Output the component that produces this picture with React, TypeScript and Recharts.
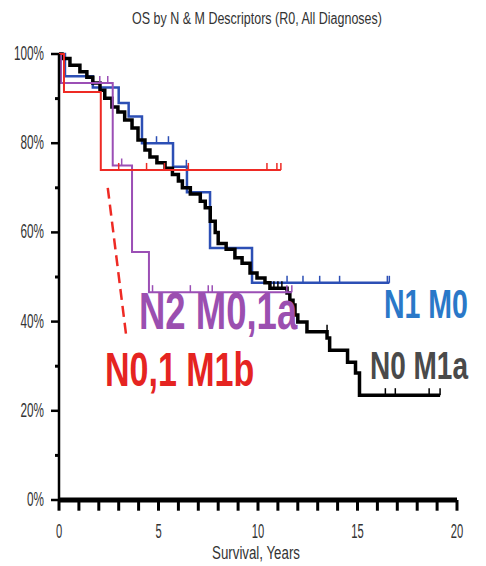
import React from "react";
import { ComposedChart, Line, Scatter, XAxis, YAxis, ReferenceLine } from "recharts";

// axis ticks
const yearTicks = [0, 1, 2, 3, 4, 5, 6, 7, 8, 9, 10, 11, 12, 13, 14, 15, 16, 17, 18, 19, 20];
const pctTicks = [0, 20, 40, 60, 80, 100];
const pctMinorTicks = [10, 30, 50, 70, 90];

// N0 M1a (black)
const n0m1aYears = [0, 0.15, 0.55, 1.05, 1.4, 1.7, 2.06, 2.3, 2.66, 2.96, 3.3, 3.67, 3.97, 4.32, 4.57, 4.92, 5.33, 5.7, 6.0, 6.2, 6.6, 7.1, 7.35, 7.6, 7.85, 8.0, 8.4, 8.84, 9.2, 9.6, 9.95, 10.35, 10.6, 11.46, 11.6, 11.76, 11.86, 12.0, 12.46, 13.47, 13.6, 14.5, 14.9, 15.1, 19.15];
const n0m1aSurv = [100, 99, 97.5, 96, 94.8, 93.5, 91.9, 90.1, 88.1, 87, 85.2, 83.4, 80.7, 78.5, 76.9, 75.6, 74.4, 73, 71.5, 70, 68.6, 67, 65.5, 62.5, 60, 57.5, 56.2, 54.3, 53.1, 50.9, 49.8, 48.7, 47.5, 46.4, 44.8, 43.7, 41.5, 39.9, 37.7, 36.3, 33.6, 30.9, 28.5, 23.5, 23.5];
const n0m1aCensYears = [10.8, 11.0, 11.2, 13.47, 16.4, 16.9, 18.6, 19.15];
const n0m1aCensSurv = [47.5, 47.5, 47.5, 37.7, 23.5, 23.5, 23.5, 23.5];

// N1 M0 (blue)
const n1m0Years = [0, 0.3, 1.7, 3.0, 3.5, 4.17, 5.73, 6.43, 7.59, 9.7, 16.6];
const n1m0Surv = [100, 95, 92.5, 89, 86, 80, 74.7, 69, 56.5, 48.7, 48.7];
const n1m0CensYears = [4.9, 5.5, 6.4, 11.46, 12.26, 13.1, 14.1, 16.5, 16.6];
const n1m0CensSurv = [80, 80, 74.7, 48.7, 48.7, 48.7, 48.7, 48.7, 48.7];

// N2 M0,1a (purple)
const n2Years = [0, 0.1, 2.7, 3.67, 4.52, 11.7];
const n2Surv = [100, 93.5, 75, 55.6, 46.6, 46.6];
const n2CensYears = [2.05, 2.45, 3.15, 4.7, 6.6, 7.5, 7.7, 11.45, 11.7];
const n2CensSurv = [93.5, 93.5, 75, 46.6, 46.6, 46.6, 46.6, 46.6, 46.6];

// N0,1 M1b (red)
const m1bYears = [0, 0.25, 2.1, 11.15];
const m1bSurv = [100, 91.5, 74, 74];
const m1bCensYears = [3.0, 4.4, 5.3, 6.5, 10.45, 10.95, 11.15];
const m1bCensSurv = [74, 74, 74, 74, 74, 74, 74];

// dashed pointer from the red label to its curve
const pointerYears = [2.45, 3.4];
const pointerSurv = [70, 36];

const rows = (t: number[], s: number[]) => t.map((v, i) => ({ t: v, s: s[i] }));

const FONT = '"Liberation Sans", Arial, sans-serif';

const censor = (color: string) => (props: any) => (
  <line x1={props.cx} x2={props.cx} y1={props.cy} y2={props.cy - 7} stroke={color} strokeWidth={1.5} />
);

function XTick(props: any) {
  const { x, y, payload } = props;
  const v = payload.value;
  if (v % 5 !== 0) return <g />;
  return (
    <text x={x} y={y} transform={`translate(${x},${y + 23}) scale(0.8,1.45) translate(${-x},${-y})`}
      textAnchor="middle" fontSize={14} fontFamily={FONT} fill="#333">
      {v}
    </text>
  );
}

function YTick(props: any) {
  const { x, y, payload } = props;
  return (
    <text x={x} y={y} transform={`translate(${x - 3},${y + 6}) scale(0.87,1.45) translate(${-x},${-y})`}
      textAnchor="end" fontSize={13.5} fontFamily={FONT} fill="#333">
      {`${payload.value}%`}
    </text>
  );
}

const bigLabel = (text: string, x: number, y: number, size: number, color: string) => (
  <text x={0} y={0} transform={`translate(${x},${y}) scale(1,1.4)`} fontSize={size} fontWeight={700}
    fontFamily={FONT} fill={color}>
    {text}
  </text>
);

export default function App() {
  return (
    <div style={{ position: "absolute", left: 0, top: 0, width: 486, height: 566, background: "#fff" }}>
      <ComposedChart width={486} height={566} margin={{ top: 54, right: 29, bottom: 26, left: 0 }}>
        <XAxis
          type="number"
          dataKey="t"
          domain={[0, 20]}
          ticks={yearTicks}
          interval={0}
          tick={<XTick />}
          tickLine={false}
          stroke="#000"
          strokeWidth={3}
          tickSize={11}
          tickMargin={4}
          height={40}
          allowDuplicatedCategory={false}
        />
        <YAxis
          type="number"
          dataKey="s"
          domain={[0, 100]}
          ticks={pctTicks}
          interval={0}
          tick={<YTick />}
          stroke="#000"
          strokeWidth={2.5}
          tickSize={8}
          tickMargin={4}
          width={59}
        />
        <ReferenceLine y={0} stroke="#000" strokeWidth={5} ifOverflow="visible" />
        {yearTicks.map((t) => (
          <ReferenceLine key={`xt${t}`} segment={[{ x: t, y: 0 }, { x: t, y: -2.4 }]} stroke="#000" strokeWidth={3} ifOverflow="visible" />
        ))}
        {pctMinorTicks.map((s) => (
          <ReferenceLine key={`ym${s}`} segment={[{ x: 0, y: s }, { x: -0.2, y: s }]} stroke="#000" strokeWidth={3} ifOverflow="visible" />
        ))}
        <Line data={rows(n1m0Years, n1m0Surv)} dataKey="s" type="stepAfter" stroke="#2c4fb5" strokeWidth={2.5} dot={false} isAnimationActive={false} />
        <Line data={rows(n0m1aYears, n0m1aSurv)} dataKey="s" type="stepAfter" stroke="#000" strokeWidth={3.5} dot={false} isAnimationActive={false} />
        <Line data={rows(n2Years, n2Surv)} dataKey="s" type="stepAfter" stroke="#9b4fb5" strokeWidth={2} dot={false} isAnimationActive={false} />
        <Line data={rows(m1bYears, m1bSurv)} dataKey="s" type="stepAfter" stroke="#ee2a24" strokeWidth={2} dot={false} isAnimationActive={false} />
        <Line data={rows(pointerYears, pointerSurv)} dataKey="s" type="linear" stroke="#ee2a24" strokeWidth={2.5} strokeDasharray="11 6" dot={false} isAnimationActive={false} />
        <Scatter data={rows(n1m0CensYears, n1m0CensSurv)} dataKey="s" shape={censor("#2c4fb5")} isAnimationActive={false} />
        <Scatter data={rows(n0m1aCensYears, n0m1aCensSurv)} dataKey="s" shape={censor("#000")} isAnimationActive={false} />
        <Scatter data={rows(n2CensYears, n2CensSurv)} dataKey="s" shape={censor("#9b4fb5")} isAnimationActive={false} />
        <Scatter data={rows(m1bCensYears, m1bCensSurv)} dataKey="s" shape={censor("#ee2a24")} isAnimationActive={false} />
      </ComposedChart>
      <svg width={486} height={566} style={{ position: "absolute", left: 0, top: 0, pointerEvents: "none" }}>
        <text x={0} y={0} transform="translate(257,24) scale(1,1.3)" textAnchor="middle" fontSize={12.5} fontFamily={FONT} fill="#333">
          OS by N &amp; M Descriptors (R0, All Diagnoses)
        </text>
        <text x={0} y={0} transform="translate(256,559) scale(0.95,1.35)" textAnchor="middle" fontSize={14} fontFamily={FONT} fill="#333">
          Survival, Years
        </text>
        {bigLabel("N1 M0", 384, 318, 28.5, "#2a78c8")}
        {bigLabel("N0 M1a", 370, 379, 28, "#4a4a4a")}
        {bigLabel("N2 M0,1a", 139, 329, 36.5, "#9b4fb0")}
        {bigLabel("N0,1 M1b", 105, 386, 34, "#e52421")}
      </svg>
    </div>
  );
}
